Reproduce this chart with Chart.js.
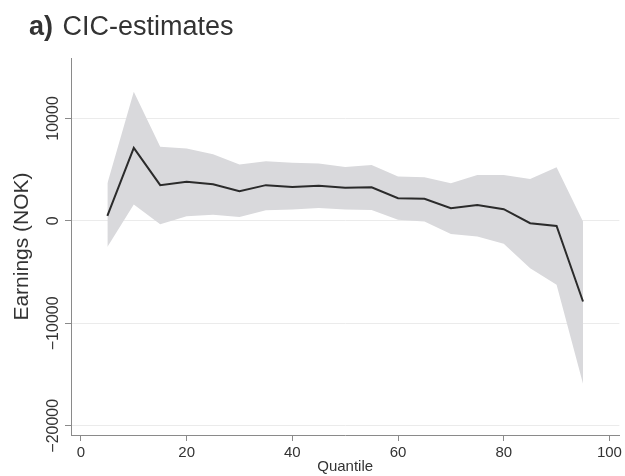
<!DOCTYPE html>
<html>
<head>
<meta charset="utf-8">
<script src="https://cdn.jsdelivr.net/npm/chart.js@4.4.1/dist/chart.umd.min.js"></script>
<style>
  body { margin: 0; background: #fff; }
  #wrap { position: relative; width: 625px; height: 476px; }
  #title {
    position: absolute; left: 29px; top: 13px;
    font-family: "Liberation Sans", Arial, sans-serif;
    font-size: 27px; line-height: 27px; color: #333; white-space: nowrap;
  }
  #title b { font-weight: bold; margin-right: 2px; }
</style>
</head>
<body>
<div id="wrap">
  <canvas id="cic" width="625" height="476"></canvas>
  <div id="title"><b>a)</b> CIC-estimates</div>
</div>
<script>
// quantiles and CIC point estimates with the confidence band
const quantiles = [5, 10, 15, 20, 25, 30, 35, 40, 45, 50, 55, 60, 65, 70, 75, 80, 85, 90, 95];
const cicEstimate = [500, 7130, 3490, 3810, 3580, 2900, 3490, 3320, 3420, 3240, 3280, 2210, 2150, 1240, 1560, 1140, -230, -490, -7870];
const upperBound = [3650, 12600, 7230, 7070, 6510, 5500, 5830, 5670, 5600, 5260, 5460, 4330, 4260, 3670, 4490, 4490, 4100, 5240, -70];
const lowerBound = [-2540, 1600, -330, 460, 590, 390, 1040, 1110, 1270, 1120, 1070, 100, -70, -1270, -1530, -2240, -4620, -6240, -15900];
const xTicks = [0, 20, 40, 60, 80, 100];
const yTicks = [-20000, -10000, 0, 10000];

const pts = (arr) => quantiles.map((q, i) => ({ x: q, y: arr[i] }));
const font = 'Liberation Sans, Arial, sans-serif';
const textCol = '#333';
const axisCol = '#8a8a8a';

new Chart(document.getElementById('cic').getContext('2d'), {
  type: 'line',
  data: {
    datasets: [
      {
        label: 'CIC',
        data: pts(cicEstimate),
        borderColor: '#2b2b2b',
        borderWidth: 2,
        pointRadius: 0,
        tension: 0,
        fill: false
      },
      {
        label: 'upper',
        data: pts(upperBound),
        borderWidth: 0,
        borderColor: 'rgba(0,0,0,0)',
        backgroundColor: 'rgb(217,217,220)',
        pointRadius: 0,
        tension: 0,
        fill: '+1'
      },
      {
        label: 'lower',
        data: pts(lowerBound),
        borderWidth: 0,
        borderColor: 'rgba(0,0,0,0)',
        pointRadius: 0,
        tension: 0,
        fill: false
      }
    ]
  },
  options: {
    responsive: false,
    animation: false,
    layout: { padding: { top: 58, right: 3, left: 0, bottom: 0 } },
    plugins: {
      legend: { display: false },
      tooltip: { enabled: false }
    },
    scales: {
      x: {
        type: 'linear',
        min: -1.88,
        max: 101.88,
        afterBuildTicks: (s) => { s.ticks = xTicks.map(v => ({ value: v })); },
        afterFit: (s) => { s.height = 41; },
        border: { color: axisCol, width: 1 },
        grid: { display: true, drawOnChartArea: false, tickLength: 6, tickColor: axisCol },
        ticks: { color: textCol, font: { family: font, size: 15 }, padding: 3, maxRotation: 0 },
        title: {
          display: true, text: 'Quantile', color: textCol,
          font: { family: font, size: 15 }, padding: { top: 0, bottom: 0 }
        }
      },
      y: {
        type: 'linear',
        min: -20900,
        max: 15900,
        afterBuildTicks: (s) => { s.ticks = yTicks.map(v => ({ value: v })); },
        afterFit: (s) => { s.width = 71; },
        border: { color: axisCol, width: 1 },
        grid: { color: '#ebebeb', lineWidth: 1, tickLength: 6, tickColor: axisCol },
        ticks: {
          color: textCol,
          font: { family: font, size: 16 },
          minRotation: 90,
          maxRotation: 90,
          crossAlign: 'center',
          padding: -16,
          callback: (v) => String(v).replace('-', '\u2212')
        },
        title: {
          display: true, text: 'Earnings (NOK)', color: textCol,
          font: { family: font, size: 21 }, padding: { top: 10, bottom: 0 }
        }
      }
    }
  }
});
</script>
</body>
</html>
